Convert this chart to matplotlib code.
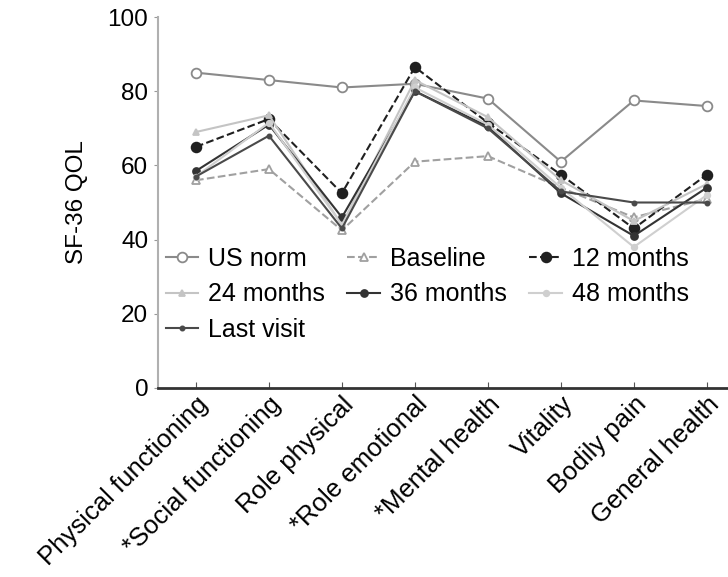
import matplotlib
matplotlib.use("Agg")
from matplotlib import pyplot as plt

plt.rcParams["font.family"] = ["Liberation Sans", "DejaVu Sans"]

categories = ["Physical functioning", "*Social functioning", "Role physical",
              "*Role emotional", "*Mental health", "Vitality", "Bodily pain",
              "General health"]

us_norm = [85, 83, 81, 82, 78, 61, 77.5, 76]
baseline = [56, 59, 42.5, 61, 62.5, 54, 46, 51]
m12 = [65, 72.5, 52.5, 86.5, 71.5, 57.5, 43, 57.5]
m24 = [69, 73.5, 44, 83, 73, 56, 45, 55]
m36 = [58.5, 71, 46, 80, 70.5, 52.5, 41, 54]
m48 = [57, 71.5, 44, 81, 71, 54, 38, 52]
last_visit = [57, 68, 43, 80, 70, 53, 50, 50]

# name, values, color, linestyle, marker, marker size, marker face
series = [
    ("US norm", us_norm, "#8a8a8a", "-", "o", 7, "white"),
    ("Baseline", baseline, "#a0a0a0", "--", "^", 6, "white"),
    ("12 months", m12, "#202020", "--", "o", 7, None),
    ("24 months", m24, "#c4c4c4", "-", "^", 4, None),
    ("36 months", m36, "#333333", "-", "o", 5, None),
    ("48 months", m48, "#cfcfcf", "-", "o", 4, None),
    ("Last visit", last_visit, "#4a4a4a", "-", "o", 3, None),
]

fig = plt.figure(figsize=(7.28, 5.77), dpi=100)
ax = fig.add_axes([158 / 728, 1 - 388 / 577, 578 / 728, 371 / 577])

x = list(range(len(categories)))
lines = {}
for name, vals, col, ls, mk, ms, face in series:
    ln, = ax.plot(x, vals, color=col, linestyle=ls, linewidth=1.5, marker=mk,
                  markersize=ms, markerfacecolor=face if face else col,
                  markeredgecolor=col, markeredgewidth=1.3, label=name)
    lines[name] = ln

ax.set_xlim(-0.52, 7.4)
ax.set_ylim(0, 100)
ax.set_yticks([0, 20, 40, 60, 80, 100])
ax.set_xticks(x)
ax.set_xticklabels(categories, rotation=45, ha="right", rotation_mode="anchor",
                   fontsize=18.5)
ax.tick_params(axis="y", labelsize=17.5, length=3, color="#999999", pad=4)
ax.tick_params(axis="x", direction="in", length=4, color="#555555", pad=3)
ax.set_ylabel("SF-36 QOL", fontsize=17.5, labelpad=14)

for s in ["top", "right"]:
    ax.spines[s].set_visible(False)
ax.spines["left"].set_color("#b0b0b0")
ax.spines["left"].set_linewidth(1.5)
ax.spines["bottom"].set_color("#333333")
ax.spines["bottom"].set_linewidth(2)

# legend is filled row by row in the reference
order = ["US norm", "24 months", "Last visit", "Baseline", "36 months",
         "12 months", "48 months"]
ax.legend([lines[n] for n in order], order, loc="upper left",
          bbox_to_anchor=(0.0, 0.40), ncol=3, frameon=False,
          fontsize=18, handlelength=1.3, handletextpad=0.4, columnspacing=0.9,
          labelspacing=0.45, borderpad=0, borderaxespad=0.3)

fig.savefig("out.png", dpi=100)
